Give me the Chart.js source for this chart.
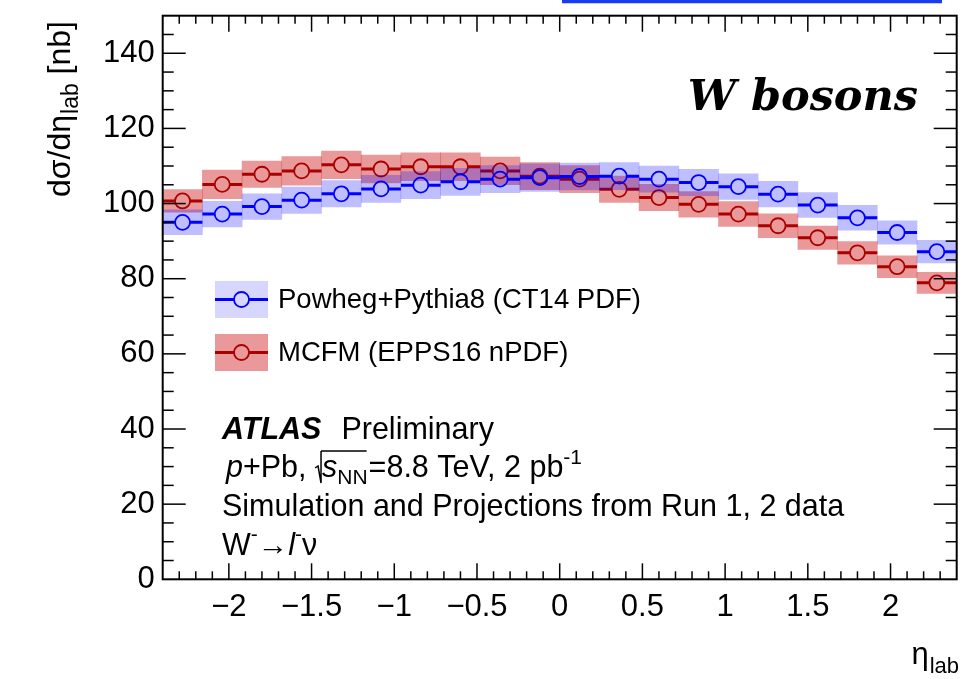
<!DOCTYPE html>
<html>
<head>
<meta charset="utf-8">
<script src="https://cdn.jsdelivr.net/npm/chart.js@4.4.1/dist/chart.umd.min.js"></script>
<style>
html,body{margin:0;padding:0;background:#fff}
#wrap{position:relative;width:966px;height:679px}
</style>
</head>
<body>
<div id="wrap"><canvas id="chart" width="966" height="679"></canvas></div>
<script>
'use strict';
// bin centres in eta_lab, 20 bins of width 0.24
const etaCenters=[-2.28,-2.04,-1.80,-1.56,-1.32,-1.08,-0.84,-0.60,-0.36,-0.12,0.12,0.36,0.60,0.84,1.08,1.32,1.56,1.80,2.04,2.28];
const binWidth=0.24;
const powhegValues=[95.0,97.2,99.2,100.9,102.6,103.9,104.9,105.8,106.5,106.9,107.2,107.3,106.5,105.6,104.5,102.5,99.6,96.2,92.3,87.2];
const powhegErrors=[3.3,3.4,3.4,3.5,3.5,3.6,3.6,3.6,3.6,3.7,3.6,3.6,3.5,3.5,3.4,3.4,3.3,3.3,3.1,3.0];
const mcfmValues=[100.7,105.1,107.8,108.7,110.3,109.2,109.8,109.8,108.7,107.3,106.5,103.8,101.6,99.8,97.2,94.1,90.9,86.9,83.2,78.9];
const mcfmErrors=[3.0,3.8,3.5,3.8,3.7,3.7,3.7,3.7,3.7,3.6,3.6,3.5,3.5,3.4,3.3,3.2,3.1,3.0,2.9,2.8];
const xTickValues=[-2,-1.5,-1,-0.5,0,0.5,1,1.5,2];
const yTickValues=[0,20,40,60,80,100,120,140];
const seriesLabels=['Powheg+Pythia8 (CT14 PDF)','MCFM (EPPS16 nPDF)'];

const FONT='"Liberation Sans", Arial, Helvetica, sans-serif';
const BLUE='#0000ff',BLUE_BAND='rgba(0,0,255,0.25)',BLUE_LEG='rgba(0,0,255,0.16)';
const RED='#aa0000',RED_BAND='rgba(200,0,0,0.40)';
const markerGap=0.046; // half marker width in eta units, the error bar stops at the circle

const band=(vals,errs)=>etaCenters.map((x,i)=>({x,y:[vals[i]-errs[i],vals[i]+errs[i]]}));
const bars=(vals)=>{
  const d=[];
  etaCenters.forEach((x,i)=>{
    const v=vals[i],lo=x-binWidth/2,hi=x+binWidth/2;
    d.push({x:lo,y:v},{x:x-markerGap,y:v},{x:x,y:null},{x:x+markerGap,y:v},{x:hi,y:v},{x:hi,y:null});
  });
  return d;
};
const points=(vals)=>etaCenters.map((x,i)=>({x,y:vals[i]}));
const minus=v=>v<0?'\u2212'+Math.abs(v):String(v);

function runs(ctx,x,y,parts){
  for(const p of parts){
    ctx.font=p.f;
    ctx.fillText(p.t,x+(p.dx||0),y+(p.dy||0));
    x+=(p.dx||0)+ctx.measureText(p.t).width;
  }
  return x;
}

const frame={
  id:'frame',
  afterDraw(chart){
    const {ctx,chartArea:a,scales:{x,y}}=chart;
    ctx.save();
    ctx.strokeStyle='#000';ctx.lineWidth=1.5;
    const seg=(x1,y1,x2,y2)=>{ctx.beginPath();ctx.moveTo(x1,y1);ctx.lineTo(x2,y2);ctx.stroke();};
    for(let i=-23;i<=23;i++){
      const px=x.getPixelForValue(i/10),len=i%5===0?16:8;
      seg(px,a.bottom,px,a.bottom-len);seg(px,a.top,px,a.top+len);
    }
    for(let i=1;i<30;i++){
      const py=y.getPixelForValue(i*5),len=i%4===0?23:11;
      seg(a.left,py,a.left+len,py);seg(a.right,py,a.right-len,py);
    }
    ctx.lineWidth=2;
    ctx.strokeRect(a.left,a.top,a.right-a.left,a.bottom-a.top);

    // stray line from the figure above
    ctx.strokeStyle='#1a3cf0';ctx.lineWidth=3.3;
    seg(562,1.7,942,1.7);

    // legend
    const leg=[[BLUE_LEG,BLUE,281],[RED_BAND,RED,334]];
    leg.forEach(([fill,col,top],i)=>{
      ctx.fillStyle=fill;ctx.fillRect(215,top,53,37);
      const cy=top+18.5,cx=241.5;
      ctx.strokeStyle=col;ctx.lineWidth=3;
      seg(215,cy,cx-7.5,cy);seg(cx+7.5,cy,268,cy);
      ctx.lineWidth=1.8;ctx.beginPath();ctx.arc(cx,cy,7.5,0,Math.PI*2);ctx.stroke();
      ctx.fillStyle='#000';ctx.font='27.5px '+FONT;ctx.textBaseline='middle';
      ctx.fillText(seriesLabels[i],278,cy+1);
    });

    // ATLAS label block
    ctx.textBaseline='alphabetic';ctx.fillStyle='#000';
    const N='30.5px '+FONT,I='italic 30.5px '+FONT,S='21px '+FONT;
    runs(ctx,222,439,[{t:'ATLAS',f:'italic bold 30.5px '+FONT},{t:'Preliminary',f:N,dx:20}]);
    let cx=runs(ctx,226,477,[{t:'p',f:I},{t:'+Pb, ',f:N}]);
    // square root sign
    ctx.strokeStyle='#000';ctx.lineWidth=1.5;
    ctx.beginPath();ctx.moveTo(cx,468);ctx.lineTo(cx+3,466);ctx.lineTo(cx+6,483);ctx.lineTo(cx+6,451);ctx.stroke();
    const sx=cx+7;
    cx=runs(ctx,sx,477,[{t:'s',f:I},{t:'NN',f:S,dy:7}]);
    seg(cx-1,451,sx-1,451);
    cx=runs(ctx,cx+1,477,[{t:'=8.8 TeV, 2 pb',f:N},{t:'-1',f:S,dy:-13}]);
    runs(ctx,222,516,[{t:'Simulation and Projections from Run 1, 2 data',f:N}]);
    runs(ctx,222,555,[{t:'W',f:N},{t:'-',f:S,dy:-14},{t:'\u2192',f:N},{t:'l',f:I},{t:'-',f:S,dy:-14},{t:'\u03bd',f:N}]);

    // top-right tag
    ctx.font='italic bold 43px "DejaVu Serif", "Liberation Serif", serif';
    ctx.textAlign='right';
    ctx.fillText('W bosons',918,110);

    // axis titles
    ctx.textAlign='left';
    ctx.save();
    ctx.translate(70,197);ctx.rotate(-Math.PI/2);
    runs(ctx,0,0,[{t:'d\u03c3/d\u03b7',f:'32px '+FONT},{t:'lab',f:'23px '+FONT,dx:1,dy:8},{t:' [nb]',f:'32px '+FONT}]);
    ctx.restore();
    ctx.font='31px '+FONT;
    const etaW=ctx.measureText('\u03b7').width;
    ctx.font='22px '+FONT;
    const labW=ctx.measureText('lab').width;
    runs(ctx,959-etaW-labW-1,664,[{t:'\u03b7',f:'31px '+FONT},{t:'lab',f:'22px '+FONT,dx:1,dy:9}]);
    ctx.restore();
  }
};

Chart.defaults.font.family=FONT;
Chart.defaults.color='#000';

new Chart(document.getElementById('chart'),{
  type:'bar',
  data:{
    datasets:[
      {type:'line',data:points(powhegValues),showLine:false,pointStyle:'circle',pointRadius:7.5,pointBorderWidth:1.8,
        pointBorderColor:BLUE,pointBackgroundColor:'rgba(0,0,0,0)',order:1},
      {type:'line',data:bars(powhegValues),borderColor:BLUE,borderWidth:3,pointRadius:0,spanGaps:false,order:2},
      {type:'bar',data:band(powhegValues,powhegErrors),backgroundColor:BLUE_BAND,borderWidth:0,order:3},
      {type:'line',data:points(mcfmValues),showLine:false,pointStyle:'circle',pointRadius:7.5,pointBorderWidth:1.8,
        pointBorderColor:RED,pointBackgroundColor:'rgba(0,0,0,0)',order:4},
      {type:'line',data:bars(mcfmValues),borderColor:RED,borderWidth:3,pointRadius:0,spanGaps:false,order:5},
      {type:'bar',data:band(mcfmValues,mcfmErrors),backgroundColor:RED_BAND,borderWidth:0,order:6},
    ],
  },
  options:{
    responsive:false,animation:false,devicePixelRatio:1,
    layout:{padding:{top:15.7,right:6.7,left:0,bottom:0}},
    datasets:{bar:{grouped:false,barPercentage:1,categoryPercentage:1}},
    plugins:{legend:{display:false},tooltip:{enabled:false}},
    scales:{
      x:{type:'linear',min:-2.4,max:2.4,offset:false,
        grid:{display:false,drawTicks:false},border:{display:false},
        afterBuildTicks:s=>{s.ticks=xTickValues.map(value=>({value}));},
        afterFit:s=>{s.height=99.7;s.paddingLeft=0;s.paddingRight=0;},
        ticks:{font:{size:31},padding:10,maxRotation:0,autoSkip:false,callback:v=>minus(v)}},
      y:{type:'linear',min:0,max:150,
        grid:{display:false,drawTicks:false},border:{display:false},
        afterBuildTicks:s=>{s.ticks=yTickValues.map(value=>({value}));},
        afterFit:s=>{s.width=162.7;s.paddingTop=0;s.paddingBottom=0;},
        ticks:{font:{size:31},padding:8,autoSkip:false,callback:v=>String(v)}},
    },
  },
  plugins:[frame],
});
</script>
</body>
</html>
